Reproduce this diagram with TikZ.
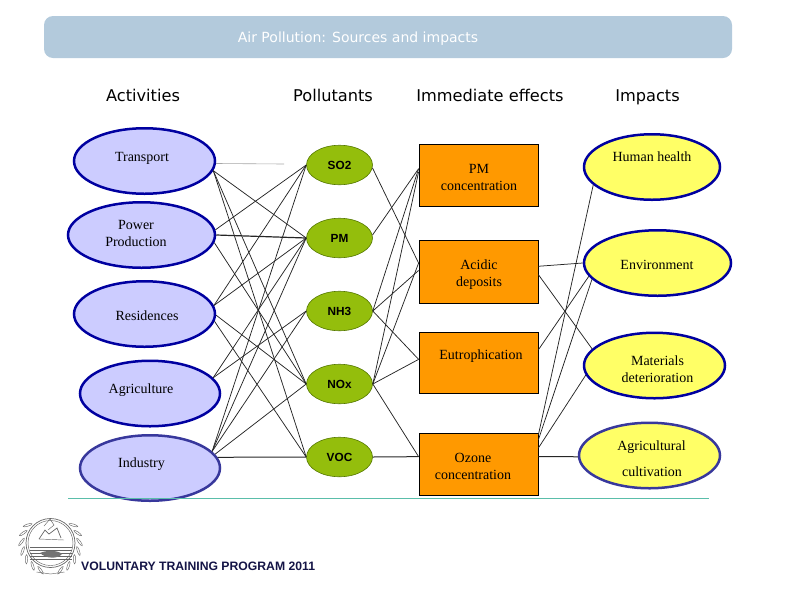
\documentclass[tikz,border=0pt]{standalone}
\usepackage{fontspec}
\setmainfont{Liberation Serif}
\newfontfamily\headfont{DejaVu Sans}
\newfontfamily\armfont{Liberation Sans}
\usetikzlibrary{positioning,shapes.geometric,calc}
\definecolor{barblue}{RGB}{179,202,220}
\definecolor{actfill}{RGB}{204,204,255}
\definecolor{actline}{RGB}{0,0,160}
\definecolor{indline}{RGB}{56,56,156}
\definecolor{polfill}{RGB}{148,190,12}
\definecolor{polline}{RGB}{84,120,0}
\definecolor{effill}{RGB}{255,153,0}
\definecolor{impfill}{RGB}{255,255,102}
\definecolor{rulecol}{RGB}{90,190,170}
\definecolor{navy}{RGB}{20,20,70}
\tikzset{
  actv/.style={ellipse,draw=actline,fill=actfill,line width=2.5pt,inner sep=0pt,minimum width=#1,minimum height=65.5pt},
  pollut/.style={ellipse,draw=polline,fill=polfill,line width=0.6pt,inner sep=0pt,minimum width=66pt,minimum height=39.5pt,font=\armfont\bfseries\fontsize{11.8}{12}\selectfont},
  effbox/.style={rectangle,draw=black,fill=effill,line width=0.8pt,inner sep=0pt,minimum width=119pt,minimum height=#1},
  impc/.style={ellipse,draw=actline,fill=impfill,line width=2.5pt,inner sep=0pt,minimum width=#1,minimum height=65.5pt},
  lbl/.style={font=\fontsize{14}{17}\selectfont,align=center,inner sep=0pt},
  head/.style={font=\headfont\fontsize{16.2}{17}\selectfont,inner sep=0pt,anchor=base},
  wire/.style={draw=black!85,line width=0.75pt},
  leaf/.style={draw=black!60,line width=0.45pt},
}
\begin{document}
\begin{tikzpicture}[x=1pt,y=-1pt]
\useasboundingbox (0,0) rectangle (794,595);
% ---- title bar and column heads ----
\node[fill=barblue,rounded corners=9pt,minimum width=688pt,minimum height=42pt,inner sep=0pt] (bar) at (388,37) {};
\node[font=\headfont\fontsize{14}{14}\selectfont,text=white,inner sep=0pt] (title) at (358,39) {Air Pollution: Sources and impacts};
\node[head] (hact) at (143,101) {Activities};
\node[head] (hpol) at (333,101) {Pollutants};
\node[head] (heff) at (490,101) {Immediate effects};
\node[head] (himp) at (647.5,101) {Impacts};
% ---- activities ----
\node[actv=141pt] (transport) at (144.5,161) {};
\node[actv=147pt] (power) at (141.5,235) {};
\node[actv=141pt] (resid) at (144.5,314) {};
\node[actv=140pt] (agri) at (150,393.5) {};
\node[actv=140pt,draw=indline] (indus) at (150,468) {};
\node[lbl] (ltransport) at (142,158) {Transport};
\node[lbl] (lpower) at (136,233.5) {Power\\Production};
\node[lbl] (lresid) at (147,316) {Residences};
\node[lbl] (lagri) at (141,390.5) {Agriculture};
\node[lbl] (lindus) at (141.5,464.5) {Industry};
% ---- pollutants ----
\node[pollut] (so2) at (339.5,165) {SO2};
\node[pollut] (pm) at (339.5,238) {PM};
\node[pollut] (nh3) at (339.5,311) {NH3};
\node[pollut] (nox) at (339.5,384) {NOx};
\node[pollut] (voc) at (339.5,457) {VOC};
% ---- immediate effects ----
\node[effbox=62pt] (pmc) at (478.5,175) {};
\node[effbox=63pt] (acid) at (478.5,271.5) {};
\node[effbox=61pt] (eut) at (478.5,362.5) {};
\node[effbox=62pt] (oz) at (478.5,464) {};
\node[lbl] (lpmc) at (479,177) {PM\\concentration};
\node[lbl] (lacid) at (479,274.5) {Acidic\\deposits};
\node[lbl] (leut) at (481,356.5) {Eutrophication};
\node[lbl] (loz) at (473,466.5) {Ozone\\concentration};
% ---- impacts ----
\node[impc=136pt] (human) at (652,167) {};
\node[impc=147pt] (env) at (657.5,263) {};
\node[impc=141pt] (mat) at (654.5,365.5) {};
\node[impc=141pt,draw=indline] (cult) at (649.5,455.5) {};
\node[lbl] (lhuman) at (652,156.5) {Human health};
\node[lbl] (lenv) at (657,264.5) {Environment};
\node[lbl] (lmat) at (657.5,369.5) {Materials\\deterioration};
\node[lbl] (lcult1) at (651.5,447.5) {Agricultural};
\node[lbl] (lcult2) at (652,472) {cultivation};
% ---- activities to pollutants ----
\coordinate (fadeend) at (284,164);
\draw[black!35,line width=0.6pt] (transport.-2) -- (fadeend);
\draw[wire] (transport.-8) -- (pm.west);
\draw[wire] (transport.-8) -- (nox.west);
\draw[wire] (transport.-8) -- (voc.west);
\draw[wire] (power.4) -- (so2.west);
\draw[wire,line width=1.2pt] (power.east) -- (pm.west);
\draw[wire] (power.-6) -- (nox.west);
\draw[wire] (resid.7) -- (so2.west);
\draw[wire] (resid.7) -- (pm.west);
\draw[wire] (resid.-1) -- (nox.west);
\draw[wire] (resid.-6) -- (voc.west);
\draw[wire] (agri.14) -- (pm.west);
\draw[wire] (agri.14) -- (nh3.west);
\draw[wire] (indus.15) -- (so2.west);
\draw[wire] (indus.15) -- (pm.west);
\draw[wire] (indus.15) -- (nh3.west);
\draw[wire] (indus.12) -- (nox.west);
\draw[wire,line width=1pt] (indus.9) -- (voc.west);
% ---- pollutants to effects ----
\draw[wire] (so2.-5) -- (acid.172);
\draw[wire] (pm.5) -- (pmc.174);
\draw[wire] (nh3.east) -- (pmc.174);
\draw[wire] (nh3.east) -- (acid.179);
\draw[wire] (nh3.east) -- (eut.177);
\draw[wire] (nox.east) -- (pmc.177);
\draw[wire] (nox.east) -- (acid.172);
\draw[wire] (nox.east) -- (eut.177);
\draw[wire] (nox.east) -- (oz.173);
\draw[wire,line width=1pt] (voc.east) -- (oz.173);
% ---- effects to impacts ----
\draw[wire] (acid.5) -- (env.west);
\draw[wire] (acid.-3) -- (mat.165);
\draw[wire] (eut.12) -- (env.191);
\draw[wire] (oz.26) -- (human.197);
\draw[wire] (oz.22) -- (env.194);
\draw[wire] (oz.15) -- (mat.188);
\draw[wire,line width=1pt] (oz.7) -- (cult.181);
% ---- rule, seal, footer ----
\coordinate (rulea) at (68,498);
\coordinate (ruleb) at (709,498);
\draw[rulecol,line width=0.8pt] (rulea) -- (ruleb);
\coordinate (seal) at (50.5,543);
\draw[leaf,line width=0.7pt] (seal) circle (24.5);
\draw[leaf] (seal) circle (22.5);
\foreach \sgn in {1,-1} {
  \begin{scope}[shift={(seal)},xscale=\sgn]
    \foreach \a in {-70,-52,...,40} {
      \draw[leaf,rotate=\a,rotate around={35:(29,0)}] (29,0) ellipse (1.1 and 4.6);
    }
    \draw[leaf] (0,31) -- (14,29);
  \end{scope}
}
\foreach \yy in {547,550,553,556,559} {
  \draw[leaf] ($(seal)+(-21,\yy-543)$) -- ($(seal)+(21,\yy-543)$);
}
\fill[black!55] (40,553) .. controls (46,550) and (58,550) .. (62,554) .. controls (58,559) and (46,559) .. (40,553) -- cycle;
\draw[leaf,line width=0.7pt] (39,539) -- (45,530) -- (49,534) -- (57,528) -- (61,538);
\draw[leaf] (39,539) -- (64,540);
\draw[leaf] (44,526) -- (50,519) -- (54,525) -- (48,530);
\node[font=\armfont\bfseries\fontsize{12.2}{13}\selectfont,text=navy,inner sep=0pt,anchor=west] (foot) at (81,566.5) {VOLUNTARY TRAINING PROGRAM 2011};
\end{tikzpicture}
\end{document}
